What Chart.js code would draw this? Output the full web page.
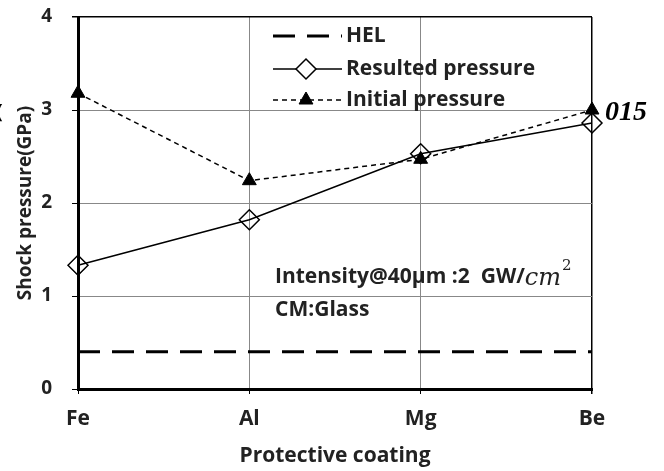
<!DOCTYPE html>
<html>
<head>
<meta charset="utf-8">
<script src="https://cdn.jsdelivr.net/npm/chart.js@4.4.0/dist/chart.umd.min.js"></script>
<style>
  html, body { margin: 0; padding: 0; background: #fff; }
  #wrap { width: 664px; height: 471px; position: relative; }
</style>
</head>
<body>
<div id="wrap"><canvas id="chart" width="664" height="471"></canvas></div>
<script>
// chart values
const coatings = ["Fe", "Al", "Mg", "Be"];
const helValues = [0.4, 0.4, 0.4, 0.4];
const resultedValues = [1.33, 1.82, 2.53, 2.86];
const initialValues = [3.18, 2.24, 2.47, 3.0];
const yTicks = [0, 1, 2, 3, 4];
const seriesNames = ["HEL", "Resulted pressure", "Initial pressure"];

const FONT = "'Open Sans', sans-serif";

// legend + notes drawn on top of the chart area
const overlay = {
    id: "overlay",
    afterDraw(chart) {
        const ctx = chart.ctx;
        const sets = chart.data.datasets;
        const rows = [36, 69, 100];
        ctx.save();
        sets.forEach((ds, i) => {
            const y = rows[i];
            ctx.beginPath();
            ctx.strokeStyle = "#000";
            ctx.lineWidth = ds.borderWidth;
            ctx.setLineDash(ds.borderDash || []);
            ctx.moveTo(273, y);
            ctx.lineTo(342, y);
            ctx.stroke();
            ctx.setLineDash([]);
            if (ds.pointRadius > 0) {
                ctx.fillStyle = ds.legendFill;
                ctx.strokeStyle = "#000";
                ctx.lineWidth = ds.pointBorderWidth;
                Chart.helpers.drawPoint(ctx, {
                    pointStyle: ds.pointStyle,
                    radius: ds.pointRadius,
                    rotation: 0,
                    borderWidth: ds.pointBorderWidth
                }, 306, y);
            }
            ctx.fillStyle = "#222";
            ctx.font = "bold 21px " + FONT;
            ctx.textBaseline = "middle";
            ctx.fillText(ds.label, 346, y);
        });

        // annotation text
        ctx.fillStyle = "#222";
        ctx.font = "bold 21px " + FONT;
        ctx.textBaseline = "middle";
        let x = 275;
        const part = "Intensity@40\u03bcm :2  GW/";
        ctx.fillText(part, x, 277);
        x += ctx.measureText(part).width;
        ctx.font = "italic 24px 'DejaVu Serif', serif";
        ctx.fillText("cm", x, 279);
        x += ctx.measureText("cm").width;
        ctx.font = "15px 'DejaVu Serif', serif";
        ctx.fillText("2", x + 1, 266);
        ctx.font = "bold 21px " + FONT;
        ctx.fillText("CM:Glass", 275, 310);

        // stray clipped text from the source figure
        ctx.font = "bold italic 28px 'Liberation Serif', serif";
        ctx.fillStyle = "#000";
        ctx.fillText("015", 605, 113);
        ctx.font = "bold 20px " + FONT;
        ctx.fillText("(", -4, 112);
        ctx.restore();
    }
};

const ctx = document.getElementById("chart").getContext("2d");
new Chart(ctx, {
    type: "line",
    data: {
        labels: coatings,
        datasets: [
            {
                label: seriesNames[0],
                data: helValues,
                borderColor: "#000",
                borderWidth: 3,
                borderDash: [22, 12],
                pointRadius: 0,
                pointBorderWidth: 0
            },
            {
                label: seriesNames[1],
                data: resultedValues,
                borderColor: "#000",
                borderWidth: 1.5,
                pointStyle: "rectRot",
                pointRadius: 10,
                pointBackgroundColor: "rgba(255,255,255,0)",
                legendFill: "#fff",
                pointBorderColor: "#000",
                pointBorderWidth: 1.5
            },
            {
                label: seriesNames[2],
                data: initialValues,
                borderColor: "#000",
                borderWidth: 1.5,
                borderDash: [5, 4],
                pointStyle: "triangle",
                pointRadius: 8,
                pointBackgroundColor: "#000",
                legendFill: "#000",
                pointBorderColor: "#000",
                pointBorderWidth: 1
            }
        ]
    },
    options: {
        responsive: false,
        animation: false,
        layout: { padding: { top: 17, right: 72, left: 0, bottom: 0 } },
        plugins: {
            legend: { display: false },
            tooltip: { enabled: false }
        },
        scales: {
            x: {
                offset: false,
                afterFit: s => { s.height = 82; s.paddingLeft = 0; s.paddingRight = 0; },
                grid: {
                    color: c => c.index === 3 ? "#000" : "#888",
                    lineWidth: c => c.index === 3 ? 1.5 : 1,
                    tickLength: 5,
                    tickColor: "#000"
                },
                border: { color: "#000", width: 3 },
                ticks: {
                    color: "#222",
                    font: { family: FONT, size: 21, weight: "bold" },
                    padding: 12,
                    maxRotation: 0
                },
                title: {
                    display: true,
                    text: "Protective coating",
                    color: "#222",
                    font: { family: FONT, size: 21, weight: "bold" },
                    padding: { top: 0, bottom: 2 }
                }
            },
            y: {
                min: 0,
                max: 4,
                afterFit: s => { s.width = 78; s.paddingTop = 0; s.paddingBottom = 0; },
                afterBuildTicks: s => { s.ticks = yTicks.map(v => ({ value: v })); },
                grid: {
                    color: c => c.tick.value === 4 ? "#000" : "#888",
                    lineWidth: c => c.tick.value === 4 ? 1.5 : 1,
                    tickLength: 6,
                    tickColor: "#000"
                },
                border: { color: "#000", width: 3 },
                ticks: {
                    color: "#222",
                    font: { family: FONT, size: 19, weight: "bold" },
                    padding: 20
                },
                title: {
                    display: true,
                    text: "Shock pressure(GPa)",
                    color: "#222",
                    font: { family: FONT, size: 19, weight: "bold" },
                    padding: { top: 14, bottom: 2 }
                }
            }
        }
    },
    plugins: [overlay]
});
</script>
</body>
</html>
